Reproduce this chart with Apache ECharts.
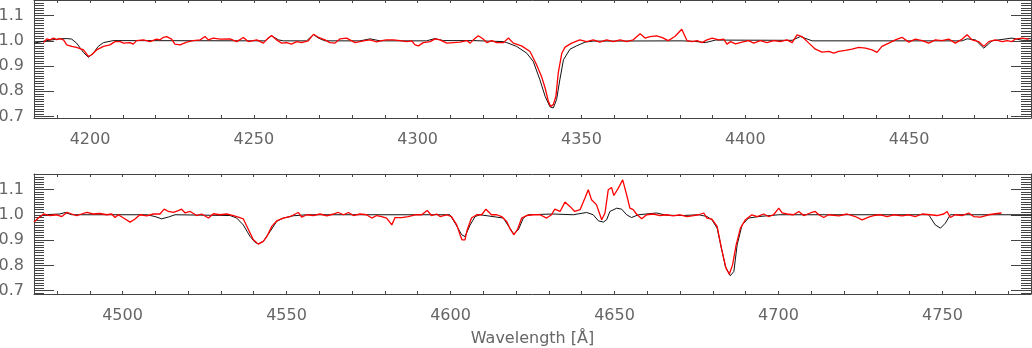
<!DOCTYPE html>
<html>
<head>
<meta charset="utf-8">
<script src="https://cdn.jsdelivr.net/npm/echarts@6/dist/echarts.min.js"></script>
<style>
  html, body { margin: 0; padding: 0; background: #fff; }
  #chart { width: 1032px; height: 348px; }
</style>
</head>
<body>
<div id="chart"></div>
<script>
// wavelength (Å), normalised flux
const topModel = [
  [4182.9, 0.991], [4186.8, 1.001], [4190.8, 1.008], [4192.9, 1.009], [4194.4, 1.007], [4195.9, 0.991],
  [4198.0, 0.954], [4199.5, 0.935], [4201.0, 0.951], [4202.5, 0.978], [4204.1, 0.993], [4207.1, 1.001],
  [4253.4, 1.000], [4255.4, 1.020], [4257.5, 1.004], [4259.0, 1.000], [4266.1, 1.000], [4268.2, 1.025],
  [4269.7, 1.011], [4271.7, 1.000], [4282.4, 1.000], [4285.5, 1.008], [4288.5, 1.000], [4302.7, 1.000],
  [4305.3, 1.009], [4307.8, 1.001], [4317.0, 1.001], [4326.2, 0.997], [4327.2, 0.993], [4330.2, 0.978],
  [4333.3, 0.951], [4335.3, 0.918], [4337.3, 0.846], [4338.9, 0.780], [4340.4, 0.738], [4341.4, 0.734],
  [4342.4, 0.767], [4343.4, 0.846], [4344.5, 0.925], [4346.5, 0.967], [4348.5, 0.980], [4351.1, 0.995],
  [4353.6, 0.999], [4380.7, 1.000], [4384.5, 0.998], [4387.8, 0.993], [4390.9, 1.003], [4414.3, 1.002],
  [4416.8, 1.017], [4420.4, 1.000], [4466.2, 1.000], [4467.7, 1.008], [4470.2, 1.004], [4472.8, 0.971],
  [4475.3, 1.000], [4481.4, 1.011], [4484.5, 1.002], [4487.5, 1.002]
];
const topObs = [
  [4185.8, 0.993], [4186.8, 1.008], [4187.8, 1.004], [4188.8, 1.011], [4189.8, 1.005], [4190.8, 1.009],
  [4191.9, 1.004], [4192.9, 0.984], [4194.4, 0.978], [4195.9, 0.974], [4198.0, 0.964], [4199.5, 0.938],
  [4200.5, 0.945], [4202.0, 0.964], [4204.1, 0.978], [4206.1, 0.984], [4207.6, 0.997], [4209.2, 0.997],
  [4210.2, 0.991], [4212.2, 0.993], [4213.2, 0.987], [4214.2, 1.001], [4216.3, 1.004], [4218.3, 0.997],
  [4220.3, 1.007], [4221.4, 1.004], [4222.4, 1.014], [4223.4, 1.017], [4224.9, 1.007], [4225.9, 0.987],
  [4227.5, 0.984], [4229.5, 0.995], [4231.5, 1.001], [4233.6, 1.004], [4235.1, 1.017], [4236.1, 1.004],
  [4237.6, 1.011], [4239.7, 1.007], [4242.7, 1.008], [4244.8, 0.997], [4246.8, 1.013], [4248.3, 0.997],
  [4250.9, 1.004], [4252.9, 0.991], [4254.4, 1.011], [4255.4, 1.021], [4256.9, 1.004], [4258.5, 0.991],
  [4260.0, 0.993], [4261.5, 0.987], [4263.1, 0.997], [4264.6, 0.993], [4266.6, 1.000], [4268.2, 1.026],
  [4269.7, 1.014], [4271.7, 1.004], [4273.2, 0.993], [4274.8, 0.991], [4276.3, 1.008], [4278.3, 1.011],
  [4280.9, 0.993], [4282.4, 0.997], [4283.9, 1.001], [4285.5, 1.004], [4287.5, 0.996], [4289.0, 1.001],
  [4290.5, 1.004], [4292.6, 1.004], [4294.6, 1.001], [4296.6, 0.997], [4298.2, 1.000], [4299.2, 0.984],
  [4300.2, 0.980], [4301.7, 0.993], [4303.8, 0.997], [4305.3, 1.008], [4306.8, 1.004], [4308.9, 0.991],
  [4310.9, 0.993], [4312.9, 0.995], [4315.0, 1.001], [4316.0, 0.991], [4317.0, 1.004], [4318.5, 1.020],
  [4320.0, 1.007], [4321.1, 0.993], [4322.6, 1.001], [4324.1, 0.993], [4326.2, 0.993], [4327.7, 1.011],
  [4329.2, 0.991], [4331.7, 0.980], [4334.3, 0.958], [4336.3, 0.905], [4337.8, 0.859], [4338.9, 0.813],
  [4339.9, 0.760], [4340.6, 0.740], [4341.4, 0.747], [4342.2, 0.780], [4342.9, 0.872], [4344.0, 0.951],
  [4345.0, 0.975], [4347.0, 0.991], [4349.5, 1.004], [4351.6, 0.997], [4353.6, 1.004], [4355.6, 0.995],
  [4357.7, 1.004], [4359.7, 0.997], [4361.8, 1.004], [4363.8, 0.997], [4365.8, 1.004], [4367.9, 1.028],
  [4369.4, 1.011], [4370.9, 1.017], [4372.9, 1.020], [4374.5, 1.014], [4376.5, 1.001], [4378.5, 1.017],
  [4380.6, 1.046], [4382.2, 1.001], [4383.8, 0.997], [4385.3, 1.001], [4386.8, 0.993], [4388.3, 1.004],
  [4389.9, 1.011], [4391.9, 1.004], [4393.4, 1.007], [4394.4, 0.987], [4395.5, 0.997], [4397.0, 0.988],
  [4399.0, 0.995], [4401.0, 1.001], [4402.6, 0.991], [4404.6, 1.001], [4406.6, 0.993], [4408.7, 1.001],
  [4410.7, 0.997], [4412.7, 1.004], [4414.3, 0.993], [4415.8, 1.024], [4417.3, 1.017], [4419.4, 0.991],
  [4421.4, 0.967], [4423.4, 0.955], [4425.5, 0.958], [4427.0, 0.951], [4428.5, 0.958], [4430.5, 0.962],
  [4432.6, 0.967], [4434.6, 0.974], [4436.7, 0.971], [4438.7, 0.964], [4440.2, 0.954], [4441.7, 0.978],
  [4443.8, 0.991], [4445.8, 1.004], [4447.8, 1.014], [4449.9, 0.995], [4451.9, 1.007], [4454.0, 1.001],
  [4456.0, 0.991], [4458.0, 1.004], [4460.0, 1.001], [4462.1, 1.007], [4464.1, 0.991], [4466.2, 1.007],
  [4467.7, 1.024], [4469.2, 1.004], [4471.2, 0.997], [4472.8, 0.978], [4474.3, 0.997], [4476.3, 1.004],
  [4478.4, 0.997], [4479.9, 1.001], [4481.4, 0.997], [4482.4, 1.007], [4484.5, 1.011], [4486.5, 1.007]
];
const botModel = [
  [4473.0, 0.971], [4474.3, 0.987], [4475.9, 1.000], [4480.9, 1.003], [4482.5, 1.009], [4484.5, 1.000],
  [4507.4, 1.000], [4509.9, 0.993], [4511.9, 0.984], [4514.0, 0.991], [4516.0, 1.000], [4532.8, 0.997],
  [4534.8, 0.987], [4536.8, 0.960], [4538.9, 0.914], [4540.4, 0.891], [4541.4, 0.885], [4542.9, 0.895],
  [4545.0, 0.934], [4547.0, 0.974], [4549.0, 0.987], [4552.1, 0.996], [4556.2, 1.000], [4599.8, 1.000],
  [4601.4, 0.967], [4603.4, 0.921], [4604.4, 0.914], [4606.0, 0.960], [4607.5, 0.993], [4609.0, 1.000],
  [4616.1, 0.987], [4618.1, 0.947], [4619.3, 0.924], [4620.7, 0.941], [4622.2, 0.987], [4623.7, 1.000],
  [4631.3, 1.003], [4637.4, 1.000], [4641.5, 1.009], [4643.5, 1.000], [4645.1, 0.976], [4646.6, 0.971],
  [4647.6, 0.980], [4648.6, 1.013], [4650.7, 1.026], [4652.2, 1.022], [4653.7, 1.000], [4655.2, 0.989],
  [4657.3, 1.000], [4662.8, 1.007], [4665.9, 0.998], [4670.6, 0.997], [4675.7, 1.000], [4678.2, 0.993],
  [4679.7, 0.980], [4681.3, 0.947], [4682.6, 0.868], [4683.8, 0.796], [4685.3, 0.759], [4686.4, 0.776],
  [4687.4, 0.881], [4688.9, 0.960], [4690.9, 0.987], [4694.0, 0.993], [4700.1, 1.000], [4745.8, 1.000],
  [4747.8, 0.960], [4749.4, 0.947], [4750.9, 0.967], [4752.4, 1.000], [4777.3, 1.000]
];
const botObs = [
  [4473.0, 0.971], [4474.3, 0.987], [4475.9, 1.003], [4477.9, 0.997], [4479.9, 1.000], [4481.5, 0.993],
  [4483.0, 1.009], [4484.5, 1.003], [4486.0, 0.997], [4487.5, 1.003], [4489.1, 1.009], [4491.1, 1.003],
  [4493.1, 1.005], [4495.2, 1.000], [4496.7, 1.003], [4497.7, 0.989], [4498.7, 1.000], [4500.3, 0.987],
  [4502.3, 0.971], [4503.8, 0.983], [4505.3, 1.000], [4507.4, 0.996], [4509.4, 1.003], [4511.4, 1.003],
  [4512.7, 1.022], [4514.0, 1.013], [4515.5, 1.009], [4517.0, 1.016], [4518.0, 1.022], [4519.1, 1.007],
  [4520.6, 1.013], [4522.6, 0.997], [4524.1, 1.003], [4526.2, 0.987], [4527.7, 1.004], [4529.7, 1.000],
  [4531.8, 1.003], [4533.8, 0.997], [4535.3, 0.991], [4536.8, 0.984], [4538.4, 0.941], [4539.9, 0.901],
  [4541.4, 0.884], [4542.9, 0.895], [4544.0, 0.914], [4545.5, 0.954], [4547.0, 0.976], [4549.0, 0.987],
  [4551.1, 0.993], [4553.6, 1.009], [4554.6, 0.991], [4556.2, 1.000], [4558.2, 0.997], [4560.2, 1.003],
  [4562.3, 0.996], [4564.3, 1.003], [4565.8, 1.009], [4567.4, 1.000], [4568.9, 1.009], [4570.4, 0.997],
  [4572.4, 1.003], [4574.4, 1.000], [4576.0, 0.987], [4577.5, 0.997], [4579.0, 0.993], [4580.5, 0.987],
  [4582.1, 0.960], [4583.1, 0.989], [4585.1, 0.989], [4587.1, 0.993], [4589.2, 1.000], [4591.2, 1.000],
  [4592.9, 1.017], [4594.2, 0.997], [4595.8, 1.003], [4596.8, 0.993], [4598.8, 1.000], [4600.3, 0.993],
  [4601.9, 0.960], [4602.9, 0.921], [4603.5, 0.901], [4604.4, 0.901], [4605.1, 0.941], [4606.4, 0.987],
  [4608.0, 1.000], [4609.5, 1.000], [4610.8, 1.022], [4612.5, 1.000], [4614.1, 1.000], [4615.6, 0.993],
  [4617.1, 0.974], [4618.3, 0.941], [4619.3, 0.921], [4620.4, 0.941], [4621.7, 0.987], [4623.2, 0.997],
  [4625.2, 1.000], [4627.3, 1.000], [4629.3, 0.987], [4630.8, 1.000], [4631.8, 1.022], [4633.4, 1.013],
  [4634.9, 1.050], [4636.4, 1.033], [4637.9, 1.013], [4639.5, 1.020], [4641.0, 1.066], [4642.0, 1.099],
  [4643.0, 1.059], [4644.5, 1.040], [4646.1, 0.980], [4647.1, 1.007], [4648.1, 1.099], [4649.1, 1.108],
  [4649.8, 1.076], [4650.9, 1.099], [4652.5, 1.138], [4653.7, 1.079], [4654.7, 1.026], [4655.7, 1.020],
  [4656.7, 1.003], [4658.3, 0.984], [4659.8, 1.000], [4661.8, 1.003], [4663.9, 0.997], [4665.9, 1.000],
  [4667.9, 0.996], [4670.0, 1.000], [4672.1, 0.993], [4673.6, 0.996], [4675.7, 1.000], [4677.2, 1.007],
  [4678.2, 0.987], [4679.7, 0.983], [4681.3, 0.954], [4682.6, 0.868], [4684.0, 0.789], [4685.0, 0.765],
  [4686.0, 0.802], [4687.1, 0.881], [4688.4, 0.947], [4689.9, 0.980], [4691.9, 1.000], [4693.5, 0.993],
  [4695.5, 1.003], [4697.0, 0.993], [4698.5, 1.000], [4700.1, 1.026], [4701.1, 1.007], [4702.6, 1.003],
  [4704.6, 1.000], [4706.2, 1.013], [4707.7, 0.997], [4709.7, 1.007], [4711.2, 1.013], [4712.3, 1.000],
  [4713.8, 0.989], [4715.3, 1.000], [4718.4, 0.996], [4720.9, 1.003], [4723.4, 0.993], [4725.5, 0.980],
  [4727.5, 0.991], [4729.0, 0.997], [4731.1, 1.000], [4733.1, 0.993], [4735.1, 1.000], [4737.7, 0.996],
  [4739.7, 1.000], [4741.7, 0.993], [4743.8, 1.003], [4746.3, 1.000], [4748.3, 0.997], [4750.4, 1.003],
  [4751.4, 1.013], [4752.4, 0.989], [4753.9, 1.000], [4756.0, 0.997], [4758.0, 1.007], [4759.5, 0.993],
  [4761.6, 0.991], [4764.1, 1.000], [4765.6, 1.003], [4768.0, 1.007]
];
const topWaveLabels = [4200, 4250, 4300, 4350, 4400, 4450];
const botWaveLabels = [4500, 4550, 4600, 4650, 4700, 4750];
const fluxLabels = [0.7, 0.8, 0.9, 1.0, 1.1];

const textColor = "#666";
const lineColor = "#444";
const font = "DejaVu Sans";

function steps(from, to, step) {
    const out = [];
    for (let v = from; v <= to + 1e-9; v += step) out.push(Math.round(v * 100) / 100);
    return out;
}
const fluxMinor = steps(0.69, 1.16, 0.01);

const panels = [
    { top: 0, height: 118, xMin: 4182.9, xMax: 4487.2, yMin: 0.694, yMax: 1.162, labels: topWaveLabels, margin: 14, model: topModel, obs: topObs },
    { top: 174, height: 120, xMin: 4473.0, xMax: 4777.0, yMin: 0.687, yMax: 1.161, labels: botWaveLabels, margin: 14, model: botModel, obs: botObs }
];

const grid = [], xAxis = [], yAxis = [], series = [];
panels.forEach((p, i) => {
    grid.push({ left: 34, top: p.top, width: 997, height: p.height, outerBoundsMode: "none" });
    const wTicks = steps(Math.ceil(p.xMin / 10) * 10, p.xMax, 10);
    const xBase = {
        gridIndex: i, type: "value", min: p.xMin, max: p.xMax,
        axisLine: { show: true, onZero: false, lineStyle: { color: lineColor, width: 1 } },
        axisTick: { show: true, inside: true, length: 3, customValues: wTicks, lineStyle: { color: lineColor } },
        splitLine: { show: false }
    };
    xAxis.push(Object.assign({}, xBase, {
        position: "bottom",
        axisLabel: { show: true, customValues: p.labels, margin: p.margin, color: textColor, fontFamily: font, fontSize: 16, formatter: v => String(v) },
        name: i === 1 ? "Wavelength [Å]" : "",
        nameLocation: "middle", nameGap: 37,
        nameTextStyle: { color: textColor, fontFamily: font, fontSize: 16 }
    }));
    xAxis.push(Object.assign({}, xBase, { position: "top", axisLabel: { show: false } }));

    const yBase = {
        gridIndex: i, type: "value", min: p.yMin, max: p.yMax,
        splitLine: { show: false }, axisLabel: { show: false }
    };
    ["left", "right"].forEach(side => {
        yAxis.push(Object.assign({}, yBase, {
            position: side,
            axisLine: { show: true, onZero: false, lineStyle: { color: lineColor, width: 1 } },
            axisTick: { show: true, inside: true, length: 20, customValues: fluxLabels, lineStyle: { color: lineColor } },
            axisLabel: side === "left"
                ? { show: true, customValues: fluxLabels, margin: 10, color: textColor, fontFamily: font, fontSize: 16, formatter: v => v.toFixed(1) }
                : { show: false }
        }));
        yAxis.push(Object.assign({}, yBase, {
            position: side,
            axisLine: { show: false },
            axisTick: { show: true, inside: true, length: 10, customValues: fluxMinor, lineStyle: { color: lineColor } }
        }));
    });
    const yIdx = i * 4;
    series.push({
        type: "line", xAxisIndex: i * 2, yAxisIndex: yIdx, data: p.model,
        showSymbol: false, silent: true, lineStyle: { color: "#111", width: 1 }
    });
    series.push({
        type: "line", xAxisIndex: i * 2, yAxisIndex: yIdx, data: p.obs,
        showSymbol: false, silent: true, lineStyle: { color: "#ff0000", width: 1.3 }
    });
});

const chart = echarts.init(document.getElementById("chart"), null, { renderer: "canvas" });
chart.setOption({
    animation: false,
    backgroundColor: "#fff",
    grid: grid,
    xAxis: xAxis,
    yAxis: yAxis,
    series: series
});
</script>
</body>
</html>
